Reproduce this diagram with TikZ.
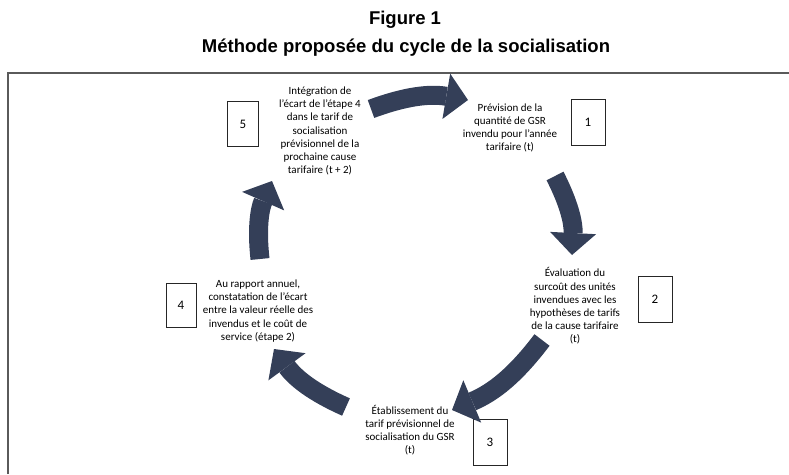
\documentclass[tikz,border=0pt]{standalone}
\usepackage{fontspec}
\setmainfont{Carlito}
\newfontfamily\titlefont{Liberation Sans}
\usetikzlibrary{arrows.meta}
\definecolor{arrowblue}{RGB}{52,63,88}
\definecolor{framegray}{RGB}{90,90,90}
\begin{document}
\begin{tikzpicture}[x=1pt,y=-1pt,
  steptext/.style={align=center, font=\fontsize{11}{13.2}\selectfont, inner sep=0pt},
  numbox/.style={draw=black!85, line width=0.9pt, minimum width=34pt, minimum height=46pt, inner sep=0pt, font=\fontsize{13}{15}\selectfont},
  cyclearrow/.style={draw=arrowblue, line width=19pt, -{Triangle[length=22pt,width=46pt,line width=0pt]}},
  titletext/.style={font=\titlefont\bfseries\fontsize{18.5}{22}\selectfont, inner sep=0pt}
]
\useasboundingbox (0,0) rectangle (789,474);
% titles
\node[titletext] (fig) at (405,20) {Figure 1};
\node[titletext] (ttl) at (406,48) {Méthode proposée du cycle de la socialisation};
% frame
\draw[framegray, line width=1.5pt] (8,474) -- (8,73) -- (789,73);
% step texts
\node[steptext] (t1) at (510,128) {Prévision de la\\quantité de GSR\\invendu pour l'année\\tarifaire (t)};
\node[steptext] (t2) at (575,306) {Évaluation du\\surcoût des unités\\invendues avec les\\hypothèses de tarifs\\de la cause tarifaire\\(t)};
\node[steptext] (t3) at (410,430) {Établissement du\\tarif prévisionnel de\\socialisation du GSR\\(t)};
\node[steptext] (t4) at (258,311) {Au rapport annuel,\\constatation de l'écart\\entre la valeur réelle des\\invendus et le coût de\\service (étape 2)};
\node[steptext] (t5) at (320,131) {Intégration de\\l'écart de l'étape 4\\dans le tarif de\\socialisation\\prévisionnel de la\\prochaine cause\\tarifaire (t + 2)};
% number boxes
\node[numbox] (b1) at (588,122) {1};
\node[numbox] (b2) at (655,299) {2};
\node[numbox] (b3) at (490,442) {3};
\node[numbox, minimum width=30pt, minimum height=44pt] (b4) at (181,305) {4};
\node[numbox, minimum width=31pt, minimum height=45pt] (b5) at (243,124) {5};
% arrow end points
\coordinate (a1s) at (371,109); \coordinate (a1e) at (468,100);
\coordinate (a2s) at (555,176); \coordinate (a2e) at (572,255);
\coordinate (a3s) at (542,340); \coordinate (a3e) at (452,410);
\coordinate (a4s) at (346,407); \coordinate (a4e) at (274,349);
\coordinate (a5s) at (260,259); \coordinate (a5e) at (272,181);
% cycle arrows
\draw[cyclearrow] (a1s) to[bend left=15] (a1e);
\draw[cyclearrow] (a2s) to[bend left=15] (a2e);
\draw[cyclearrow] (a3s) to[bend left=15] (a3e);
\draw[cyclearrow] (a4s) to[bend left=15] (a4e);
\draw[cyclearrow] (a5s) to[bend left=15] (a5e);
\end{tikzpicture}
\end{document}
